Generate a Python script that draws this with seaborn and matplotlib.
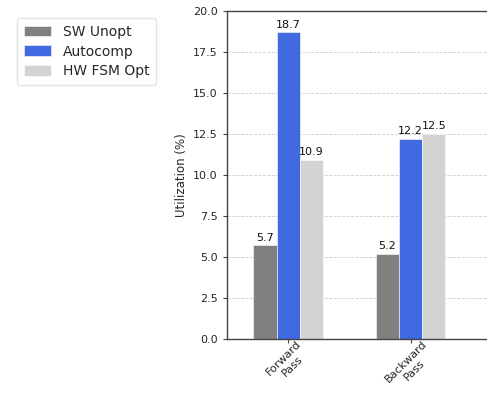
import matplotlib
matplotlib.use("Agg")
import matplotlib.pyplot as plt
import seaborn as sns
import pandas as pd

# Utilization per pass for each implementation
passes = ["Forward\nPass", "Backward\nPass"]
variants = ["SW Unopt", "Autocomp", "HW FSM Opt"]
sw_unopt = [5.7, 5.2]
autocomp = [18.7, 12.2]
hw_fsm_opt = [10.9, 12.5]
colors = ["#808080", "#4169E1", "#D3D3D3"]
yticks = [0.0, 2.5, 5.0, 7.5, 10.0, 12.5, 15.0, 17.5, 20.0]

rows = []
for name, vals in zip(variants, [sw_unopt, autocomp, hw_fsm_opt]):
    for p, v in zip(passes, vals):
        rows.append({"Pass": p, "Variant": name, "Utilization": v})
df = pd.DataFrame(rows)

sns.set_style("white")
plt.rcParams["font.family"] = ["DejaVu Sans"]

fig = plt.figure(figsize=(4.87, 3.95), dpi=100)
ax = fig.add_axes([0.466, 0.142, 0.578, 0.830])

sns.barplot(data=df, x="Pass", y="Utilization", hue="Variant",
            hue_order=variants, palette=colors, saturation=1, width=0.57,
            edgecolor="white", linewidth=0.4, ax=ax, legend=True)

for cont in ax.containers:
    ax.bar_label(cont, fmt="%.1f", fontsize=8, padding=2, color="#111111")

ax.set_ylim(0, 20)
ax.set_yticks(yticks)
ax.set_yticklabels([f"{t:.1f}" for t in yticks], fontsize=8)
ax.set_xlim(-0.5, 1.8)
ax.set_xlabel("")
ax.set_ylabel("Utilization (%)", fontsize=8.5, labelpad=4)
ax.tick_params(axis="x", labelsize=8, rotation=45, length=3, pad=-3,
               color="#444444", bottom=True)
ax.tick_params(axis="y", length=3, color="#444444", left=True)
ax.yaxis.grid(True, linestyle="--", color="#cccccc", linewidth=0.6)
ax.set_axisbelow(True)
for s in ax.spines.values():
    s.set_color("#444444")
    s.set_linewidth(1.0)

handles, labels = ax.get_legend_handles_labels()
ax.get_legend().remove()
fig.legend(handles, labels, loc="upper left", bbox_to_anchor=(0.02, 0.972),
           fontsize=10, frameon=True, handlelength=2.0, handleheight=0.8,
           borderpad=0.5, labelspacing=0.4, edgecolor="#dddddd")

fig.savefig("out.png", dpi=100)
